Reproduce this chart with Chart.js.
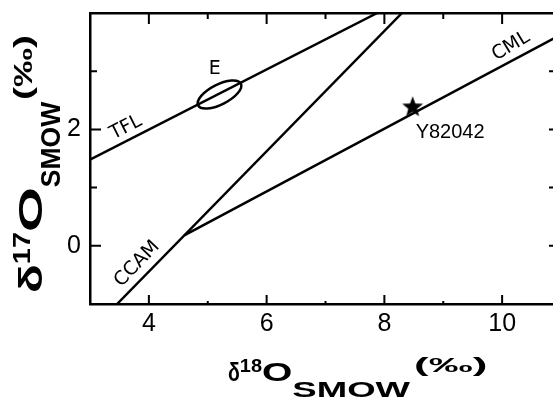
<!DOCTYPE html>
<html>
<head>
<meta charset="utf-8">
<script src="https://cdn.jsdelivr.net/npm/chart.js@4/dist/chart.umd.min.js"></script>
<style>
html, body { margin: 0; padding: 0; background: #fff; overflow: hidden; }
#wrap { width: 565px; height: 401px; }
</style>
</head>
<body>
<div id="wrap"><canvas id="oxygenChart" width="565" height="401"></canvas></div>
<script>
// delta-18O vs delta-17O, per mil relative to SMOW
const tflX = [3.0, 7.88];
const tflY = [1.48, 4.0];
const ccamX = [3.46, 8.3];
const ccamY = [-1.0, 4.0];
const cmlX = [4.6, 11.0];
const cmlY = [0.18, 3.63];
const sampleX = [8.48];
const sampleY = [2.38];
const sampleNames = ['Y82042'];
const eucriteCenter = [5.2, 2.6];
const xTickLabels = [4, 6, 8, 10];
const yTickLabels = [0, 2];

const zip = (xs, ys) => xs.map((v, i) => ({ x: v, y: ys[i] }));

// filled five-point star used as the point marker
function makeStar(r) {
  const c = document.createElement('canvas');
  c.width = c.height = r * 2 + 2;
  const g = c.getContext('2d');
  g.translate(r + 1, r + 1);
  g.beginPath();
  for (let i = 0; i < 10; i++) {
    const rad = i % 2 === 0 ? r : r * 0.42;
    const a = -Math.PI / 2 + i * Math.PI / 5;
    g.lineTo(rad * Math.cos(a), rad * Math.sin(a));
  }
  g.closePath();
  g.fillStyle = '#000';
  g.fill();
  return c;
}

const lineStyle = { borderColor: '#000', borderWidth: 2.5, pointRadius: 0, showLine: true, fill: false };

// tick marks drawn pointing into the plot on all four sides
const inwardTicks = {
  id: 'inwardTicks',
  afterDraw(chart) {
    const { ctx, chartArea: a, scales } = chart;
    ctx.save();
    ctx.strokeStyle = '#000';
    ctx.lineWidth = 2;
    ctx.beginPath();
    scales.x.ticks.forEach(t => {
      if (t.value <= scales.x.min || t.value >= scales.x.max) return;
      const px = scales.x.getPixelForValue(t.value);
      const major = t.value % 2 === 0;
      ctx.moveTo(px, a.bottom); ctx.lineTo(px, a.bottom - (major ? 9 : 3));
      ctx.moveTo(px, a.top); ctx.lineTo(px, a.top + (major ? 11 : 6));
    });
    scales.y.ticks.forEach(t => {
      if (t.value <= scales.y.min || t.value >= scales.y.max) return;
      const py = scales.y.getPixelForValue(t.value);
      const major = t.value % 2 === 0;
      ctx.moveTo(a.left, py); ctx.lineTo(a.left + (major ? 11 : 7), py);
      ctx.moveTo(a.right, py); ctx.lineTo(a.right - 12, py);
    });
    ctx.stroke();
    ctx.restore();
  }
};

const lineLabels = [
  { text: 'TFL', x: 3.61, y: 2.03, angle: -27 },
  { text: 'E', x: 5.12, y: 3.03, angle: 0 },
  { text: 'CML', x: 10.15, y: 3.43, angle: -31 },
  { text: 'CCAM', x: 3.8, y: -0.31, angle: -46 }
];

// runs of an axis title: text, font size, baseline shift, horizontal stretch, gap before
const xTitleRuns = [
  { t: 'δ', size: 26, dy: 0, sx: 0.75 },
  { t: '18', size: 19, dy: -9, sx: 1.05 },
  { t: 'O', size: 26, dy: 0, sx: 1.5 },
  { t: 'SMOW', size: 22, dy: 16, sx: 1.66 },
  { t: '(‰)', size: 20, dy: -9, sx: 2.2, gap: 4 }
];
const yTitleRuns = [
  { t: 'δ', size: 34, dy: 0, sx: 1.4 },
  { t: '17', size: 24, dy: -12, sx: 1.2 },
  { t: 'O', size: 34, dy: 0, sx: 1.7 },
  { t: 'SMOW', size: 27, dy: 18, sx: 0.98 },
  { t: '(‰)', size: 26, dy: -10, sx: 1.5, gap: 2 }
];

function drawRuns(ctx, runs) {
  let cx = 0;
  runs.forEach(r => {
    cx += r.gap || 0;
    ctx.font = 'bold ' + r.size + 'px "Liberation Sans", Arial, sans-serif';
    const w = ctx.measureText(r.t).width;
    ctx.save();
    ctx.translate(cx, r.dy);
    ctx.scale(r.sx, 1);
    ctx.fillText(r.t, 0, 0);
    ctx.restore();
    cx += w * r.sx;
  });
}

const annotations = {
  id: 'annotations',
  afterDatasetsDraw(chart) {
    const { ctx, scales: { x, y } } = chart;
    ctx.save();
    ctx.strokeStyle = '#000';
    ctx.fillStyle = '#000';
    ctx.lineWidth = 2.5;

    // ellipse around E, aligned with the fractionation line
    const cx = x.getPixelForValue(eucriteCenter[0]);
    const cy = y.getPixelForValue(eucriteCenter[1]);
    const ang = Math.atan2(
      y.getPixelForValue(tflY[1]) - y.getPixelForValue(tflY[0]),
      x.getPixelForValue(tflX[1]) - x.getPixelForValue(tflX[0]));
    ctx.beginPath();
    ctx.ellipse(cx, cy, 24, 10, ang, 0, Math.PI * 2);
    ctx.stroke();

    ctx.textAlign = 'center';
    ctx.textBaseline = 'middle';
    ctx.font = '19px "DejaVu Sans", sans-serif';
    lineLabels.forEach(l => {
      ctx.save();
      ctx.translate(x.getPixelForValue(l.x), y.getPixelForValue(l.y));
      ctx.rotate(l.angle * Math.PI / 180);
      ctx.fillText(l.text, 0, 0);
      ctx.restore();
    });

    // sample name under the star
    ctx.textAlign = 'left';
    ctx.font = '20px "Liberation Sans", sans-serif';
    sampleNames.forEach((n, i) => {
      ctx.fillText(n, x.getPixelForValue(sampleX[i]) + 3, y.getPixelForValue(sampleY[i]) + 25);
    });

    // axis titles
    ctx.textBaseline = 'alphabetic';
    ctx.save();
    ctx.translate(228, 381);
    drawRuns(ctx, xTitleRuns);
    ctx.restore();

    ctx.save();
    ctx.translate(42, 293);
    ctx.rotate(-Math.PI / 2);
    drawRuns(ctx, yTitleRuns);
    ctx.restore();

    ctx.restore();
  }
};

const tickFont = { family: '"Liberation Sans", Arial, sans-serif', size: 25 };
const noGrid = { display: false, drawTicks: false };
const axisBorder = { display: true, color: '#000', width: 2.5 };

// fixed axis sizes, no label overhang padding
const fixSize = (w, h) => s => {
  if (w !== null) s.width = w;
  if (h !== null) s.height = h;
  s.paddingLeft = s.paddingRight = s.paddingTop = s.paddingBottom = 0;
};

new Chart(document.getElementById('oxygenChart'), {
  type: 'scatter',
  data: {
    datasets: [
      { label: 'TFL', data: zip(tflX, tflY), ...lineStyle },
      { label: 'CCAM', data: zip(ccamX, ccamY), ...lineStyle },
      { label: 'CML', data: zip(cmlX, cmlY), ...lineStyle },
      {
        label: 'Y82042',
        data: zip(sampleX, sampleY),
        pointStyle: makeStar(11),
        pointRadius: 11,
        showLine: false
      }
    ]
  },
  options: {
    responsive: false,
    animation: false,
    devicePixelRatio: 1,
    layout: { padding: 0, autoPadding: false },
    plugins: {
      legend: { display: false },
      tooltip: { enabled: false }
    },
    scales: {
      x: {
        type: 'linear', position: 'bottom', min: 3, max: 11,
        afterFit: fixSize(null, 97),
        grid: noGrid, border: axisBorder,
        ticks: {
          stepSize: 1, autoSkip: false, maxRotation: 0, padding: 5,
          color: '#000', font: tickFont,
          callback: v => xTickLabels.includes(v) ? String(v) : ''
        }
      },
      x2: {
        type: 'linear', position: 'top', min: 3, max: 11,
        afterFit: fixSize(null, 13),
        grid: noGrid, border: axisBorder,
        ticks: { display: false, stepSize: 1 }
      },
      y: {
        type: 'linear', position: 'left', min: -1, max: 4,
        afterFit: fixSize(90, null),
        grid: noGrid, border: axisBorder,
        ticks: {
          stepSize: 1, autoSkip: false, padding: 9,
          color: '#000', font: tickFont,
          callback: v => yTickLabels.includes(v) ? String(v) : ''
        }
      },
      y2: {
        type: 'linear', position: 'right', min: -1, max: 4,
        afterFit: fixSize(4, null),
        grid: noGrid, border: axisBorder,
        ticks: { display: false, stepSize: 1 }
      }
    }
  },
  plugins: [inwardTicks, annotations]
});
</script>
</body>
</html>
